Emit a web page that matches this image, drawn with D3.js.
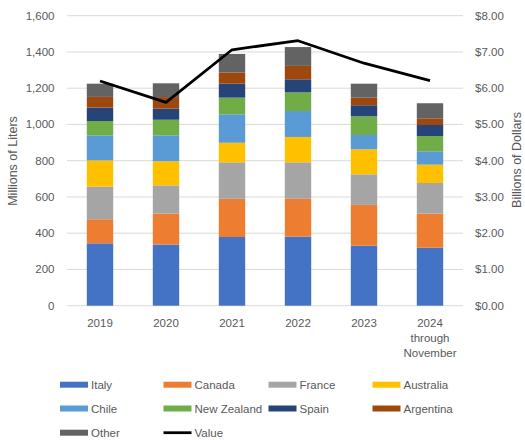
<!DOCTYPE html>
<html><head><meta charset="utf-8">
<script src="https://cdn.jsdelivr.net/npm/d3@7"></script>
<style>
body{margin:0;background:#fff;}
text{font-family:"Liberation Sans",Arial,sans-serif;fill:#595959;}
</style></head>
<body><svg id="c" width="525" height="440"></svg>
<script>
const years = ["2019","2020","2021","2022","2023","2024\nthrough\nNovember"];
const seriesNames = ["Italy","Canada","France","Australia","Chile","New Zealand","Spain","Argentina","Other"];
const italy     = [344,337,379,381,331,320];
const canada    = [133,171,211,209,225,188];
const france    = [180,156,201,201,169,169];
const australia = [145,133,108,140,138,101];
const chile     = [138,143,157,143, 79, 74];
const newZealand= [ 79, 86, 92,103,103, 84];
const spain     = [ 74, 61, 77, 72, 61, 61];
const argentina = [ 59, 64, 61, 74, 42, 37];
const other     = [ 73, 76,103,104, 77, 83];
const value     = [6.20,5.61,7.06,7.31,6.69,6.21];
const leftTicks = [0,200,400,600,800,1000,1200,1400,1600];
const rightTicks = [0,1,2,3,4,5,6,7,8];

const colors = ["#4472C4","#ED7D31","#A5A5A5","#FFC000","#5B9BD5","#70AD47","#264478","#9E480E","#636363"];
const seriesVals = [italy,canada,france,australia,chile,newZealand,spain,argentina,other];

const rows = years.map((y,i)=>{const o={year:y}; seriesNames.forEach((s,k)=>o[s]=seriesVals[k][i]); return o;});
const stack = d3.stack().keys(seriesNames)(rows);

const svg = d3.select("#c");
const L=67,R=463,T=15.7,B=305.7;
const x = d3.scaleBand().domain(years).range([L,R]).paddingInner(0.6).paddingOuter(0.3);
const y = d3.scaleLinear().domain([0,1600]).range([B,T]);
const y2 = d3.scaleLinear().domain([0,8]).range([B,T]);

// gridlines
svg.append("g").selectAll("line").data(leftTicks).join("line")
  .attr("x1",L).attr("x2",R).attr("y1",d=>y(d)).attr("y2",d=>y(d))
  .attr("stroke","#d9d9d9").attr("stroke-width",1);

// left axis labels
svg.append("g").selectAll("text").data(leftTicks).join("text")
  .attr("x",54.5).attr("y",d=>y(d)+4).attr("text-anchor","end")
  .attr("font-size","11.5px").text(d=>d3.format(",")(d));
// right axis labels
svg.append("g").selectAll("text").data(rightTicks).join("text")
  .attr("x",475).attr("y",d=>y2(d)+4).attr("text-anchor","start")
  .attr("font-size","11.5px").text(d=>"$"+d.toFixed(2));

// bars
svg.append("g").selectAll("g").data(stack).join("g")
  .attr("fill",(d,i)=>colors[i])
  .selectAll("rect").data(d=>d).join("rect")
  .attr("x",d=>x(d.data.year)).attr("width",x.bandwidth())
  .attr("y",d=>y(d[1])).attr("height",d=>y(d[0])-y(d[1]));

// value line
const line = d3.line().x((d,i)=>x(years[i])+x.bandwidth()/2).y(d=>y2(d));
svg.append("path").datum(value).attr("d",line).attr("fill","none")
  .attr("stroke","#000").attr("stroke-width",2.75).attr("stroke-linejoin","round");

// x labels
const xl = svg.append("g").selectAll("text").data(years).join("text")
  .attr("x",d=>x(d)+x.bandwidth()/2).attr("y",327).attr("text-anchor","middle")
  .attr("font-size","11.5px");
xl.each(function(d){
  const t=d3.select(this);
  d.split("\n").forEach((s,i)=>t.append("tspan").attr("x",x(d)+x.bandwidth()/2).attr("dy",i?15:0).text(s));
});

// axis titles
svg.append("text").attr("transform","translate(17,161) rotate(-90)").attr("text-anchor","middle")
  .attr("font-size","12.5px").text("Millions of Liters");
svg.append("text").attr("transform","translate(520.5,160) rotate(-90)").attr("text-anchor","middle")
  .attr("font-size","12.5px").text("Billions of Dollars");

// legend
const legendItems = seriesNames.map((s,i)=>({name:s,color:colors[i],type:"rect"})).concat([{name:"Value",color:"#000",type:"line"}]);
const colX=[60,163.5,268.5,372.5], rowY=[384.7,408.5,432.7];
const lg = svg.append("g").selectAll("g").data(legendItems).join("g")
  .attr("transform",(d,i)=>`translate(${colX[i%4]},${rowY[Math.floor(i/4)]})`);
lg.filter(d=>d.type==="rect").append("rect").attr("x",0).attr("y",-3).attr("width",28).attr("height",6).attr("fill",d=>d.color);
lg.filter(d=>d.type==="line").append("line").attr("x1",0).attr("x2",28).attr("y1",0).attr("y2",0).attr("stroke","#000").attr("stroke-width",2.75);
lg.append("text").attr("x",31).attr("y",4).attr("font-size","11.5px").text(d=>d.name);
</script></body></html>
